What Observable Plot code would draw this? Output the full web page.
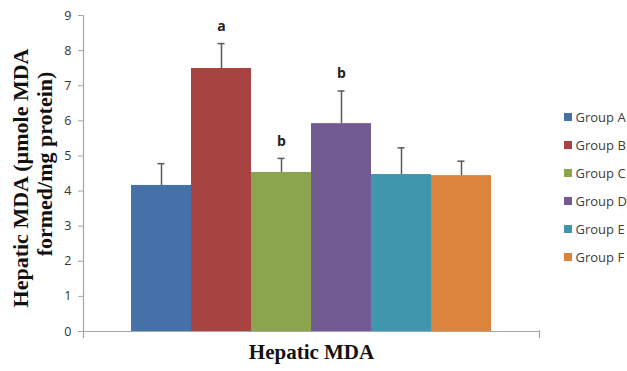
<!DOCTYPE html>
<html>
<head>
<meta charset="utf-8">
<script src="https://cdn.jsdelivr.net/npm/d3@7"></script>
<script src="https://cdn.jsdelivr.net/npm/@observablehq/plot@0.6"></script>
<style>
  html, body { margin: 0; padding: 0; background: #fff; overflow: hidden; }
  #wrap { position: relative; width: 627px; height: 371px; overflow: hidden; }
  #legend { position: absolute; left: 564px; top: 0; font-family: "Open Sans", sans-serif; font-size: 13px; color: #404040; }
  .item { position: absolute; left: 0; white-space: nowrap; display: flex; align-items: center; height: 16px; }
  .sw { width: 7.5px; height: 7.5px; margin-right: 4px; display: inline-block; }
</style>
</head>
<body>
<div id="wrap"><div id="chart"></div><div id="legend"></div></div>
<script>
const groups = ["Group A", "Group B", "Group C", "Group D", "Group E", "Group F"];
const values = [4.16, 7.49, 4.53, 5.92, 4.47, 4.44];
const errors = [0.62, 0.71, 0.40, 0.93, 0.76, 0.41];
const letters = ["", "a", "b", "b", "", ""];
const colors = ["#4570A8", "#A94341", "#8AA54E", "#725A92", "#3F97AE", "#DC843B"];
const yTicks = [0, 1, 2, 3, 4, 5, 6, 7, 8, 9];
const xTitle = "Hepatic MDA";
const yTitle1 = "Hepatic MDA (\u00b5mole MDA";
const yTitle2 = "formed/mg protein)";

const data = groups.map((g, i) => ({group: g, value: values[i], err: errors[i], letter: letters[i]}));

const chart = Plot.plot({
  width: 627,
  height: 371,
  marginLeft: 83,
  marginRight: 88,
  marginTop: 15,
  marginBottom: 40,
  x: {domain: groups, paddingInner: 0, paddingOuter: 0.75, axis: null},
  y: {domain: [0, 9], axis: null},
  color: {domain: groups, range: colors},
  marks: [
    Plot.barY(data, {x: "group", y: "value", fill: "group"}),
    Plot.ruleX(data, {x: "group", y1: "value", y2: d => d.value + d.err, stroke: "#5a5a5a", strokeWidth: 1.5}),
    Plot.tickY(data, {x: "group", y: d => d.value + d.err, stroke: "#5a5a5a", strokeWidth: 1.5, insetLeft: 26.5, insetRight: 26.5}),
    Plot.text(data.filter(d => d.letter), {x: "group", y: d => d.value + d.err, text: "letter", dy: -17, fontSize: 14, fontWeight: "bold", fill: "#222", fontFamily: "Open Sans, sans-serif"}),
    Plot.ruleY([0], {stroke: "#a6a6a6", strokeWidth: 1.2}),
    Plot.frame({anchor: "left", stroke: "#a6a6a6", strokeWidth: 1.2, insetBottom: -6}),
    Plot.frame({anchor: "right", stroke: "#a6a6a6", strokeWidth: 1.2, insetTop: 315, insetBottom: -6}),
    Plot.axisY({ticks: yTicks, tickSize: 5, tickPadding: 7, stroke: "#a6a6a6", fontSize: 12.5, fill: "#333", fontFamily: "Open Sans, sans-serif", label: null}),
    Plot.text([xTitle], {frameAnchor: "bottom", dy: 27, fontSize: 21, fontWeight: "bold", fontFamily: "Liberation Serif, serif", fill: "#111"}),
    Plot.text([yTitle1], {frameAnchor: "left", textAnchor: "middle", rotate: -90, dx: -62.7, dy: 4.5, fontSize: 22, fontWeight: "bold", fontFamily: "Liberation Serif, serif", fill: "#111"}),
    Plot.text([yTitle2], {frameAnchor: "left", textAnchor: "middle", rotate: -90, dx: -38.5, dy: -9.5, fontSize: 22, fontWeight: "bold", fontFamily: "Liberation Serif, serif", fill: "#111"})
  ]
});
document.getElementById("chart").appendChild(chart);

const legend = document.getElementById("legend");
groups.forEach((g, i) => {
  const item = document.createElement("div");
  item.className = "item";
  item.style.top = (109 + i * 28) + "px";
  const sw = document.createElement("span");
  sw.className = "sw";
  sw.style.background = colors[i];
  item.appendChild(sw);
  item.appendChild(document.createTextNode(g));
  legend.appendChild(item);
});
</script>
</body>
</html>
